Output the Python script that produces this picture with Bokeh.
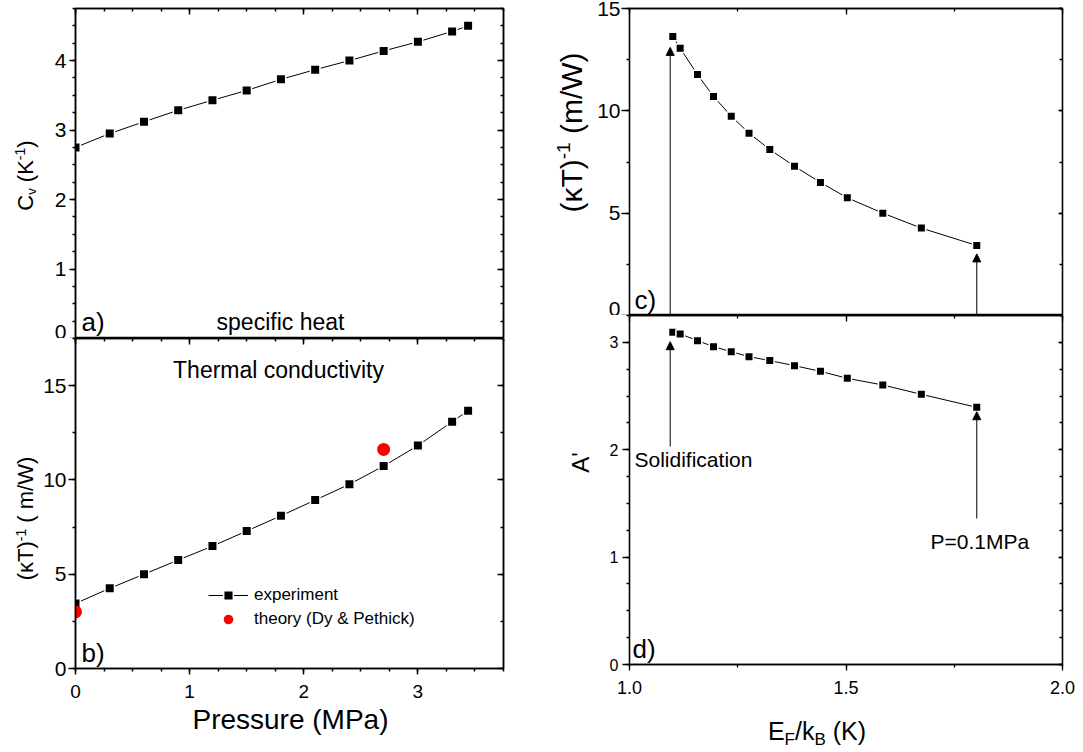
import math
from bokeh.plotting import figure
from bokeh.models import (Range1d, LinearAxis, SingleIntervalTicker, Label, Arrow,
                          NormalHead, Legend, LegendItem, PrintfTickFormatter,
                          CustomJSTickFormatter)
from bokeh.layouts import row, column
from bokeh.embed import file_html
from bokeh.resources import INLINE

FONT = "Liberation Sans"

# ---------------- data ----------------
pressure = [0.0, 0.3, 0.6, 0.9, 1.2, 1.5, 1.8, 2.1, 2.4, 2.7, 3.0, 3.3, 3.44]
cv = [2.75, 2.95, 3.12, 3.285, 3.43, 3.57, 3.73, 3.87, 4.00, 4.14, 4.27, 4.42, 4.50]
inv_kt = [3.45, 4.25, 5.00, 5.75, 6.49, 7.29, 8.10, 8.93, 9.77, 10.74, 11.82, 13.09, 13.67]
theory_p = [0.0, 2.7]
theory_kt = [3.0, 11.62]
ef = [1.100, 1.117, 1.157, 1.194, 1.235, 1.276, 1.324, 1.381, 1.441, 1.503, 1.585, 1.674, 1.802]
inv_kt_ef = [13.63, 13.06, 11.77, 10.70, 9.74, 8.91, 8.11, 7.29, 6.50, 5.75, 5.00, 4.27, 3.42]
a_prime = [3.094, 3.078, 3.016, 2.96, 2.913, 2.867, 2.83, 2.783, 2.73, 2.665, 2.603, 2.516, 2.395]

# annotation arrows: (x, y_start, y_end)
arrow_solid_c = (1.094, 0.0, 13.1)
arrow_solid_d = (1.094, 2.03, 3.006)
arrow_p_c = (1.802, 0.0, 3.01)
arrow_p_d = (1.802, 1.36, 2.354)

# ---------------- helpers ----------------
AW = {' ': 278, '(': 333, ')': 333, '-': 333, '/': 278, "'": 191, '=': 584, '.': 278, '&': 667,
      'A': 667, 'B': 667, 'C': 722, 'D': 722, 'E': 667, 'F': 611, 'K': 667, 'M': 833, 'P': 667,
      'T': 611, 'W': 944, 'a': 556, 'c': 500, 'e': 556, 'h': 556, 'i': 222, 'k': 500, 'm': 833,
      'n': 556, 'o': 556, 'r': 333, 's': 500, 't': 278, 'u': 556, 'v': 500, 'y': 500, 'κ': 500}
MID = 0.35  # distance baseline -> text middle, in em


def tw(s, size):
    return sum(AW.get(ch, 556) for ch in s) / 1000.0 * size


class Fr:
    """image position of a frame's bottom-left corner and its data origin"""
    def __init__(self, left, bottom, x0, y0):
        self.left, self.bottom, self.x0, self.y0 = left, bottom, x0, y0


def add_text(p, fr, text, ix, iy, size, align="left", angle=0.0, color="black"):
    """(ix, iy) is the baseline anchor in picture pixels"""
    if angle:
        ix = ix - MID * size
    else:
        iy = iy - MID * size
    p.add_layout(Label(x=fr.x0, y=fr.y0, x_units="data", y_units="data",
                       x_offset=ix - fr.left, y_offset=fr.bottom - iy, text=text,
                       text_font=FONT, text_font_size=f"{size}px", text_align=align,
                       text_baseline="middle", angle=angle, text_color=color))


def add_rich(p, fr, segs, ix, iy, vertical=False):
    total = sum(tw(t, s) for t, s, r in segs)
    pos = -total / 2.0
    for t, s, r in segs:
        stripped = t.lstrip(" ")
        pos += tw(t[:len(t) - len(stripped)], s)
        if vertical:
            add_text(p, fr, stripped, ix - r, iy - pos, s, angle=math.pi / 2)
        else:
            add_text(p, fr, stripped, ix + pos, iy - r, s)
        pos += tw(stripped, s)


def style_axis(ax, tin=0, tout=6, min_in=0, min_out=3, labels=True, size=21, standoff=3, lw=1.5):
    ax.axis_line_color = "black"
    ax.axis_line_width = lw
    ax.major_tick_line_color = "black"
    ax.major_tick_line_width = lw
    ax.minor_tick_line_color = "black"
    ax.minor_tick_line_width = lw
    ax.major_tick_in = tin
    ax.major_tick_out = tout
    ax.minor_tick_in = min_in
    ax.minor_tick_out = min_out
    ax.major_label_text_font = FONT
    ax.major_label_text_color = "black"
    if labels:
        ax.major_label_text_font_size = f"{size}px"
        ax.major_label_standoff = standoff
    else:
        ax.formatter = CustomJSTickFormatter(code="return ''")
        ax.major_label_text_font_size = "0px"
        ax.major_label_standoff = 0


def make_fig(width, height, xr, yr, bl, br, bt, bb):
    p = figure(width=width, height=height, x_range=Range1d(*xr), y_range=Range1d(*yr),
               output_backend="svg", toolbar_location=None,
               min_border_left=bl, min_border_right=br, min_border_top=bt, min_border_bottom=bb)
    p.xgrid.visible = False
    p.ygrid.visible = False
    p.outline_line_color = "black"
    p.outline_line_width = 1.5
    p.background_fill_color = "white"
    p.border_fill_color = "white"
    return p


def label_fig(width, height, left, top):
    """a blank canvas used only for composite (sub/superscript) axis titles"""
    p = figure(width=width, height=height, x_range=Range1d(0, width), y_range=Range1d(0, height),
               output_backend="svg", toolbar_location=None, min_border=0)
    p.axis.visible = False
    p.xgrid.visible = False
    p.ygrid.visible = False
    p.outline_line_color = None
    p.background_fill_color = "white"
    p.border_fill_color = "white"
    return p, Fr(left, top + height, 0, 0)


def mirror(p, where, ticker, lw=1.5, tin=6, min_in=3):
    ax = LinearAxis(ticker=ticker)
    style_axis(ax, tin=tin, tout=0, min_in=min_in, min_out=0, labels=False, lw=lw)
    p.add_layout(ax, where)
    return ax


def tk(interval, minor):
    return SingleIntervalTicker(interval=interval, num_minor_ticks=minor)


# ---------------- left column: title strip ----------------
strip_l, fsl = label_fig(40, 700, 0, 0)
add_rich(strip_l, fsl, [("C", 22, 0), ("v", 13, -3), (" (K", 22, 0), ("-1", 14, 8), (")", 22, 0)],
         32.5, 175, vertical=True)
add_rich(strip_l, fsl, [("(κT)", 22, 0), ("-1", 14, 8), (" ( m/W)", 22, 0)], 33, 518,
         vertical=True)

# ---------------- panel a ----------------
pa = make_fig(500, 338, (0, 3.75), (0, 4.75), 34, 37, 8, 0)
pa.xaxis.ticker = tk(1, 4)
pa.xaxis.visible = False
pa.yaxis.ticker = tk(1, 4)
style_axis(pa.yaxis[0], tout=6, min_out=3, size=21, standoff=3)
mirror(pa, "above", tk(1, 4))
mirror(pa, "right", tk(1, 4))
pa.line(pressure, cv, line_color="black", line_width=1)
pa.scatter(pressure, cv, marker="square", size=9.5, fill_color="black",
           line_color="white", line_width=1.5)
fa = Fr(74, 338, 0, 0)
add_text(pa, fa, "a)", 80, 331, 26)
add_text(pa, fa, "specific heat", 279, 330, 23, align="center")

# ---------------- panel b ----------------
pb = make_fig(500, 362, (0, 3.75), (0, 17.5), 34, 37, 0, 32)
pb.xaxis.ticker = tk(1, 4)
style_axis(pb.xaxis[0], tout=6, min_out=3, size=19, standoff=10)
pb.yaxis.ticker = tk(5, 2)
style_axis(pb.yaxis[0], tout=7, min_out=3, size=21, standoff=2)
mirror(pb, "above", tk(1, 4))
mirror(pb, "right", tk(5, 2))
lb = pb.line(pressure, inv_kt, line_color="black", line_width=1)
sb = pb.scatter(pressure, inv_kt, marker="square", size=9.5, fill_color="black",
                line_color="white", line_width=1.5)
rt = pb.scatter(theory_p, theory_kt, marker="circle", size=13, fill_color="#ff0000",
                line_color="#ff0000", line_width=0)
fb = Fr(74, 668, 0, 0)
add_text(pb, fb, "b)", 80, 661.5, 26)
add_text(pb, fb, "Thermal conductivity", 277, 378, 23, align="center")
leg = Legend(items=[LegendItem(label="experiment", renderers=[lb, sb]),
                    LegendItem(label="theory (Dy & Pethick)", renderers=[rt])],
             location=(133, 37), padding=0, margin=0, spacing=0, glyph_width=40,
             glyph_height=24, label_height=24, label_standoff=6,
             label_text_font=FONT, label_text_font_size="17px", label_text_color="black",
             border_line_color=None, background_fill_alpha=0)
pb.add_layout(leg)

xla, fxla = label_fig(540, 50, 0, 700)
add_text(xla, fxla, "Pressure (MPa)", 290, 729, 28, align="center")

# ---------------- right column: title strip ----------------
RX = 540          # left edge of the right column
SW = 54           # width of the strip that holds the rotated titles
strip, fst = label_fig(SW, 705, RX, 0)
add_rich(strip, fst, [("(κT)", 30, 0), ("-1", 19, 11), (" (m/W)", 30, 0)], 581, 132,
         vertical=True)
add_rich(strip, fst, [("A'", 24, 0)], 588, 462, vertical=True)

BL = 628 - RX - SW
PW = BL + 434 + 21

# ---------------- panel c ----------------
pc = make_fig(PW, 315, (1.0, 2.0), (0, 15), BL, 21, 8, 0)
pc.xaxis.ticker = tk(0.5, 2)
pc.xaxis.visible = False
pc.yaxis.ticker = tk(5, 2)
style_axis(pc.yaxis[0], tout=8, min_out=3, size=21, standoff=1, lw=1.3)
mirror(pc, "above", tk(0.5, 2), lw=1.3)
mirror(pc, "right", tk(5, 2), lw=1.3, tin=4, min_in=3)
pc.outline_line_width = 1.3
pc.line(ef, inv_kt_ef, line_color="black", line_width=1)
pc.scatter(ef, inv_kt_ef, marker="square", size=8.5, fill_color="black",
           line_color="white", line_width=1.5)
fc = Fr(628, 315, 1.0, 0)
add_text(pc, fc, "c)", 633, 309, 26)
for (xa, y0, y1) in (arrow_solid_c, arrow_p_c):
    pc.add_layout(Arrow(end=NormalHead(size=8, fill_color="black", line_color="black",
                                       line_width=1),
                        x_start=xa, y_start=y0, x_end=xa, y_end=y1,
                        line_color="black", line_width=1))

# ---------------- panel d ----------------
pd_ = make_fig(PW, 390, (1.0, 2.0), (0, 3.25), BL, 21, 0, 41)
pd_.xaxis.ticker = tk(0.5, 2)
pd_.xaxis.formatter = PrintfTickFormatter(format="%.1f")
style_axis(pd_.xaxis[0], tout=6, min_out=3, size=18, standoff=10, lw=1.3)
pd_.yaxis.ticker = tk(1, 4)
style_axis(pd_.yaxis[0], tout=7, min_out=3, size=16, standoff=4, lw=1.3)
mirror(pd_, "above", tk(0.5, 2), lw=1.3)
mirror(pd_, "right", tk(1, 4), lw=1.3, tin=4, min_in=3)
pd_.outline_line_width = 1.3
pd_.line(ef, a_prime, line_color="black", line_width=1)
pd_.scatter(ef, a_prime, marker="square", size=8.5, fill_color="black",
            line_color="white", line_width=1.5)
fd = Fr(628, 664, 1.0, 0)
add_text(pd_, fd, "d)", 631, 658, 26)
add_text(pd_, fd, "Solidification", 633, 466.7, 21)
add_text(pd_, fd, "P=0.1MPa", 929, 548.3, 21)
for (xa, y0, y1) in (arrow_solid_d, arrow_p_d):
    pd_.add_layout(Arrow(end=NormalHead(size=8, fill_color="black", line_color="black",
                                        line_width=1),
                         x_start=xa, y_start=y0, x_end=xa, y_end=y1,
                         line_color="black", line_width=1))

xld, fxld = label_fig(SW + PW, 45, RX, 705)
add_rich(xld, fxld, [("E", 25, 0), ("F", 17, -6), ("/k", 25, 0), ("B", 17, -6), (" (K)", 25, 0)],
         816.5, 739)

left_col = column(row(strip_l, column(pa, pb)), xla)
right_col = column(row(strip, column(pc, pd_)), xld)
layout = row(left_col, right_col)
open("out.html", "w").write(file_html(layout, INLINE))
